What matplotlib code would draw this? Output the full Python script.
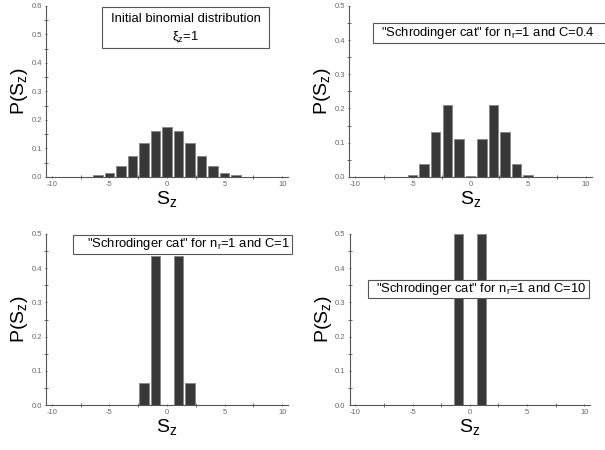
import matplotlib
matplotlib.use('Agg')
import matplotlib.pyplot as plt
from matplotlib.patches import Rectangle
from matplotlib.ticker import MultipleLocator

plt.rcParams['font.family'] = ['Liberation Sans', 'DejaVu Sans']

# data
sz = list(range(-7, 8))
p_binomial = [0.001, 0.005, 0.015, 0.037, 0.074, 0.120, 0.160, 0.176,
              0.160, 0.120, 0.074, 0.037, 0.015, 0.005, 0.001]
p_cat04 = [0.0, 0.0, 0.005, 0.038, 0.130, 0.210, 0.110, 0.002,
           0.110, 0.210, 0.130, 0.038, 0.005, 0.0, 0.0]
p_cat1 = [0.0, 0.0, 0.0, 0.0, 0.0, 0.065, 0.435, 0.0,
          0.435, 0.065, 0.0, 0.0, 0.0, 0.0, 0.0]
p_cat10 = [0.0, 0.0, 0.0, 0.0, 0.0, 0.0, 0.5, 0.0,
           0.5, 0.0, 0.0, 0.0, 0.0, 0.0, 0.0]

panels = [
    (p_binomial, 0.6, [0.076, 0.607, 0.400, 0.380]),
    (p_cat04, 0.5, [0.577, 0.607, 0.401, 0.380]),
    (p_cat1, 0.5, [0.076, 0.100, 0.400, 0.380]),
    (p_cat10, 0.5, [0.578, 0.100, 0.397, 0.380]),
]

fig = plt.figure(figsize=(6.05, 4.5), dpi=100)

for vals, ytop, pos in panels:
    ax = fig.add_axes(pos)
    ax.bar(sz, vals, width=0.82, color='#383838', edgecolor='#8a8a8a', linewidth=0.7)
    ax.set_xlim(-10.5, 10.5)
    ax.set_ylim(0, ytop)
    for s in ['top', 'right']:
        ax.spines[s].set_visible(False)
    for s in ['left', 'bottom']:
        ax.spines[s].set_color('#555555')
        ax.spines[s].set_linewidth(0.8)
    ax.xaxis.set_major_locator(MultipleLocator(5))
    ax.xaxis.set_minor_locator(MultipleLocator(2.5))
    ax.yaxis.set_major_locator(MultipleLocator(0.1))
    ax.yaxis.set_minor_locator(MultipleLocator(0.05))
    ax.yaxis.set_major_formatter(matplotlib.ticker.FormatStrFormatter('%.1f'))
    ax.xaxis.set_major_formatter(matplotlib.ticker.FuncFormatter(lambda v, p: '%d' % v))
    ax.tick_params(which='major', labelsize=5.5, labelcolor='#666666', color='#555555',
                   length=2, width=0.6, direction='inout', pad=2)
    ax.tick_params(which='minor', color='#555555', length=3, width=0.6, direction='inout')
    ax.set_xlabel('S$_\\mathregular{z}$', fontsize=14, labelpad=1)
    ax.set_ylabel('P(S$_\\mathregular{z}$)', fontsize=14, labelpad=1)

# annotation boxes
boxes = [
    (0.169, 0.893, 0.276, 0.091),
    (0.6165, 0.9044, 0.40, 0.0444),
    (0.1207, 0.4356, 0.362, 0.0422),
    (0.608, 0.3378, 0.365, 0.040),
]
for x0, y0, w, h in boxes:
    fig.patches.append(Rectangle((x0, y0), w, h, transform=fig.transFigure,
                                 facecolor='white', edgecolor='#555555', linewidth=0.8))

fs = 9.4
fig.text(0.307, 0.958, 'Initial binomial distribution', ha='center', va='center', fontsize=fs)
fig.text(0.307, 0.918, 'ξ$_\\mathregular{z}$=1', ha='center', va='center', fontsize=fs)
fig.text(0.807, 0.927, '"Schrodinger cat" for n$_\\mathregular{r}$=1 and C=0.4',
         ha='center', va='center', fontsize=fs)
fig.text(0.311, 0.4567, '"Schrodinger cat" for n$_\\mathregular{r}$=1 and C=1',
         ha='center', va='center', fontsize=fs)
fig.text(0.795, 0.358, '"Schrodinger cat" for n$_\\mathregular{r}$=1 and C=10',
         ha='center', va='center', fontsize=fs)

fig.savefig('out.png', dpi=100)
